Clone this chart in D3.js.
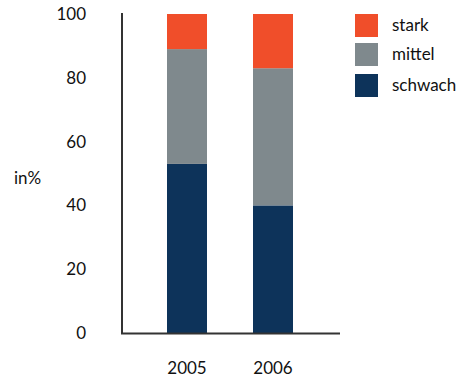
<!DOCTYPE html>
<html><head><meta charset="utf-8">
<script src="https://cdn.jsdelivr.net/npm/d3@7"></script>
<style>body{margin:0;background:#fff}svg{display:block}text{font-family:Lato,"Open Sans",sans-serif;fill:#111}</style>
</head><body><svg id="c" width="470" height="378"></svg>
<script>
const categories = ["2005", "2006"];
const seriesNames = ["schwach", "mittel", "stark"];
const schwach = [53, 40];
const mittel = [36, 43];
const stark = [11, 17];
const yTicks = [0, 20, 40, 60, 80, 100];
const colors = {schwach: "#0d335a", mittel: "#7f898d", stark: "#f04e2a"};

const svg = d3.select("#c");
const y = d3.scaleLinear().domain([0, 100]).range([333, 14]);
const x = d3.scaleBand().domain(categories).range([124, 336]).paddingInner(46 / 86).paddingOuter(0.5);

const rows = categories.map((c, i) => ({cat: c, schwach: schwach[i], mittel: mittel[i], stark: stark[i]}));
const stacked = d3.stack().keys(seriesNames)(rows);

svg.append("g").selectAll("g").data(stacked).join("g")
  .attr("fill", d => colors[d.key])
  .selectAll("rect").data(d => d).join("rect")
  .attr("x", d => x(d.data.cat))
  .attr("width", x.bandwidth())
  .attr("y", d => y(d[1]))
  .attr("height", d => y(d[0]) - y(d[1]));

// axes lines
svg.append("line").attr("x1", 122).attr("x2", 122).attr("y1", 13).attr("y2", 334)
  .attr("stroke", "#333").attr("stroke-width", 2);
svg.append("line").attr("x1", 121).attr("x2", 340).attr("y1", 333.5).attr("y2", 333.5)
  .attr("stroke", "#333").attr("stroke-width", 2);

// y tick labels
svg.append("g").selectAll("text").data(yTicks).join("text")
  .attr("x", 86).attr("y", d => y(d) + 6)
  .attr("text-anchor", "end").attr("font-size", 17)
  .text(d => d);

// x labels
svg.append("g").selectAll("text").data(categories).join("text")
  .attr("x", d => x(d) + x.bandwidth() / 2).attr("y", 374)
  .attr("text-anchor", "middle").attr("font-size", 17)
  .text(d => d);

svg.append("text").attr("x", 14).attr("y", 184).attr("font-size", 17).text("in%");

// legend
const legend = ["stark", "mittel", "schwach"];
const lg = svg.append("g").selectAll("g").data(legend).join("g")
  .attr("transform", (d, i) => `translate(355,${[14, 43, 74][i]})`);
lg.append("rect").attr("width", 23).attr("height", 23).attr("fill", d => colors[d]);
lg.append("text").attr("x", 37).attr("y", 17).attr("font-size", 17).text(d => d);
</script></body></html>
